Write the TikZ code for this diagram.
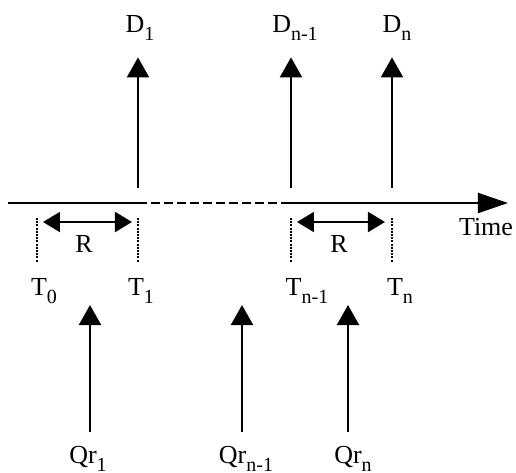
\documentclass[tikz,border=0pt]{standalone}
\usepackage{fontspec}
\setmainfont{Liberation Serif}
\usetikzlibrary{arrows.meta, positioning, calc}
\newcommand{\lowsub}[1]{\raisebox{-0.7ex}{\fontsize{10}{10}\selectfont #1}}

\begin{document}
\begin{tikzpicture}[
    x=0.5pt, y=-0.5pt,
    line width=1pt,
    lbl/.style={inner sep=0pt, anchor=base, font=\fontsize{13}{15}\selectfont},
    upar/.style={-{Triangle[length=10pt, width=11pt]}},
    span/.style={{Triangle[length=8.5pt, width=10pt]}-{Triangle[length=8.5pt, width=10pt]}},
    tick/.style={line width=0.9pt, dash pattern=on 1pt off 0.6pt},
]
    \useasboundingbox (0, 0) rectangle (516, 473);

    % time axis
    \coordinate (a0) at (8, 203);
    \coordinate (a1) at (147, 203);
    \coordinate (a2) at (151, 203);
    \coordinate (a3) at (290, 203);
    \coordinate (a4) at (508, 203);
    \draw (a0) -- (a1);
    \draw[dash pattern=on 4.5pt off 2pt] (a2) -- (a3);
    \draw[-{Triangle[length=15pt, width=10pt]}] (a3) -- (a4);
    \node[lbl, anchor=base east] (time) at (514, 235) {Time};

    % deadlines
    \node[lbl] (D1) at (140, 32) {D\lowsub{1}};
    \node[lbl] (Dm) at (295, 32) {D\lowsub{n-1}};
    \node[lbl] (Dn) at (397, 32) {D\lowsub{n}};
    \coordinate (d1) at (138, 188);
    \coordinate (dm) at (291, 188);
    \coordinate (dn) at (392, 188);
    \draw[upar, shorten >=8pt] (d1) -- (d1 |- D1.south);
    \draw[upar, shorten >=8pt] (dm) -- (dm |- Dm.south);
    \draw[upar, shorten >=8pt] (dn) -- (dn |- Dn.south);

    % periods
    \coordinate (r0) at (43, 222);
    \coordinate (r1) at (132, 222);
    \coordinate (r2) at (297, 222);
    \coordinate (r3) at (385, 222);
    \draw[span] (r0) -- (r1);
    \draw[span] (r2) -- (r3);
    \node[lbl] (R1) at (84, 252) {R};
    \node[lbl] (R2) at (339, 252) {R};

    % instants
    \node[lbl] (T0) at (44, 295) {T\lowsub{0}};
    \node[lbl] (T1) at (141, 295) {T\lowsub{1}};
    \node[lbl] (Tm) at (307, 295) {T\lowsub{n-1}};
    \node[lbl] (Tn) at (400, 295) {T\lowsub{n}};
    \coordinate (t0) at (37, 218);
    \coordinate (t1) at (138, 218);
    \coordinate (tm) at (291, 218);
    \coordinate (tn) at (392, 218);
    \draw[tick, shorten >=7.5pt] (t0) -- (t0 |- T0.north);
    \draw[tick, shorten >=7.5pt] (t1) -- (t1 |- T1.north);
    \draw[tick, shorten >=7.5pt] (tm) -- (tm |- Tm.north);
    \draw[tick, shorten >=7.5pt] (tn) -- (tn |- Tn.north);

    % requests
    \node[lbl] (Q1) at (88, 463) {Qr\lowsub{1}};
    \node[lbl] (Qm) at (246, 463) {Qr\lowsub{n-1}};
    \node[lbl] (Qn) at (353, 463) {Qr\lowsub{n}};
    \coordinate (q1) at (90, 305);
    \coordinate (qm) at (242, 305);
    \coordinate (qn) at (348, 305);
    \draw[upar, shorten <=6.5pt] (q1 |- Q1.north) -- (q1);
    \draw[upar, shorten <=6.5pt] (qm |- Qm.north) -- (qm);
    \draw[upar, shorten <=6.5pt] (qn |- Qn.north) -- (qn);
\end{tikzpicture}
\end{document}
